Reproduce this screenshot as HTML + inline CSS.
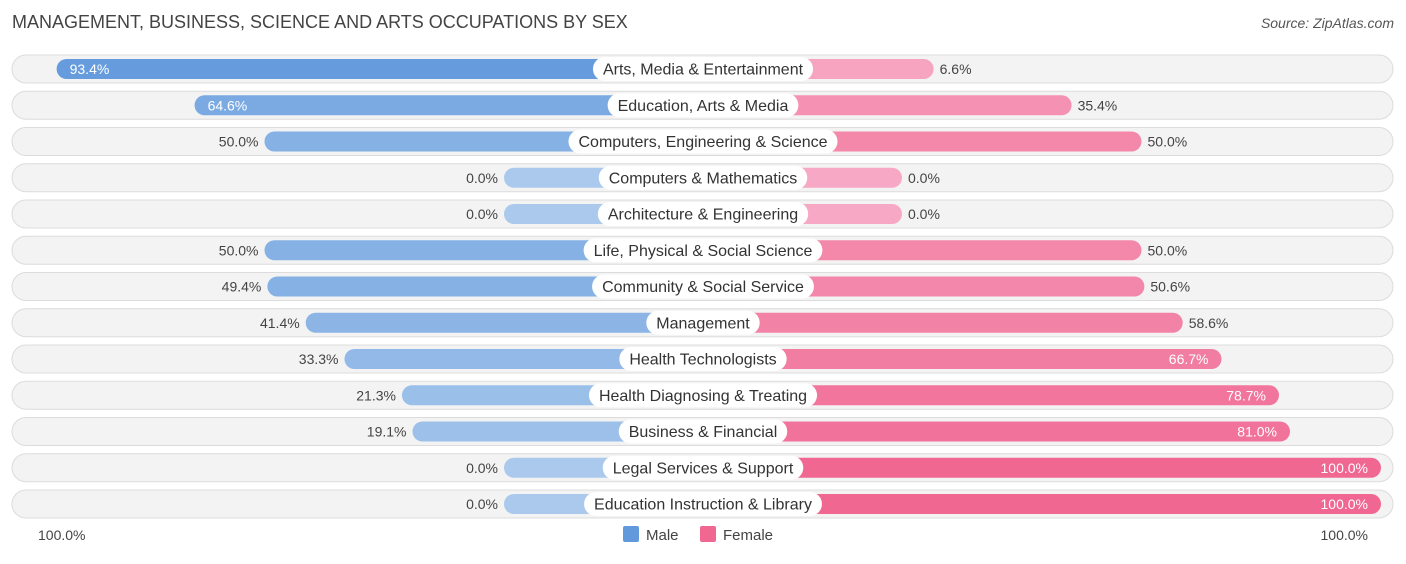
<!DOCTYPE html>
<html><head><meta charset="utf-8"><style>
body{margin:0;background:#fff;width:1406px;height:559px;overflow:hidden;font-family:"Liberation Sans",sans-serif}
</style></head><body>
<svg id="c" width="1406" height="559" xmlns="http://www.w3.org/2000/svg">
<text x="12" y="28" font-size="18" fill="#444">MANAGEMENT, BUSINESS, SCIENCE AND ARTS OCCUPATIONS BY SEX</text>
<text x="1394" y="28" font-size="14" fill="#555" font-style="italic" text-anchor="end">Source: ZipAtlas.com</text>
<text x="38" y="540" font-size="14" fill="#444">100.0%</text>
<text x="1368" y="540" font-size="14" fill="#444" text-anchor="end">100.0%</text>
<rect x="623" y="526" width="16" height="16" rx="2" fill="#6199dc"/>
<text x="646" y="540" font-size="15" fill="#444">Male</text>
<rect x="700" y="526" width="16" height="16" rx="2" fill="#f06792"/>
<text x="723" y="540" font-size="15" fill="#444">Female</text>
<g id="rows"></g>
</svg>
<script>
const categories=["Arts, Media & Entertainment","Education, Arts & Media","Computers, Engineering & Science","Computers & Mathematics","Architecture & Engineering","Life, Physical & Social Science","Community & Social Service","Management","Health Technologists","Health Diagnosing & Treating","Business & Financial","Legal Services & Support","Education Instruction & Library"];
const maleValues=[93.4,64.6,50.0,0.0,0.0,50.0,49.4,41.4,33.3,21.3,19.1,0.0,0.0];
const femaleValues=[6.6,35.4,50.0,0.0,0.0,50.0,50.6,58.6,66.7,78.7,81.0,100.0,100.0];
const NS="http://www.w3.org/2000/svg";
const cx=703,minLen=199,scale=4.79,y0=69,step=36.25,bh=20;
function len(v){return minLen+v*scale;}
function mix(a,b,t){return "rgb("+a.map((x,i)=>Math.round(x+(b[i]-x)*t)).join(",")+")";}
const mLight=[170,201,236],mDark=[97,153,220],fLight=[247,168,196],fDark=[240,103,146];
const g=document.getElementById('rows');
function mk(tag,attrs){const e=document.createElementNS(NS,tag);for(const k in attrs)e.setAttribute(k,attrs[k]);g.appendChild(e);return e;}
categories.forEach((cat,i)=>{
  const y=y0+i*step;
  const bg=mk('rect',{x:12,y:y-14,width:1381,height:28,rx:14,fill:'#f3f3f3',stroke:'#dcdcdc','stroke-width':1});
  
  
  const mv=maleValues[i],fv=femaleValues[i];
  const ml=len(mv),fl=len(fv);
  const mb=mk('rect',{x:cx-ml,y:y-bh/2,width:ml,height:bh,rx:10,fill:mix(mLight,mDark,mv/100)});
  
  
  const fb=mk('rect',{x:cx,y:y-bh/2,width:fl,height:bh,rx:10,fill:mix(fLight,fDark,fv/100)});
  
  
  const mt=mk('text',{y:y+5,'font-size':14});
  mt.textContent=mv.toFixed(1)+'%';
  if(mv>60){mt.setAttribute('x',cx-ml+13);mt.setAttribute('fill','#fff');}
  else{mt.setAttribute('x',cx-ml-6);mt.setAttribute('text-anchor','end');mt.setAttribute('fill','#444');}
  
  
  const ft=mk('text',{y:y+5,'font-size':14});
  ft.textContent=fv.toFixed(1)+'%';
  if(fv>60){ft.setAttribute('x',cx+fl-13);ft.setAttribute('text-anchor','end');ft.setAttribute('fill','#fff');}
  else{ft.setAttribute('x',cx+fl+6);ft.setAttribute('fill','#444');}
  
  
  const lt=mk('text',{x:cx,y:y+5.5,'font-size':16,'text-anchor':'middle',fill:'#333'});
  lt.textContent=cat;
  const w=lt.getComputedTextLength();
  const lb=mk('rect',{x:cx-w/2-10,y:y-12,width:w+20,height:24,rx:12,fill:'#fff'});
  g.insertBefore(lb,lt);
  
  
  
  
});
</script>
</body></html>
